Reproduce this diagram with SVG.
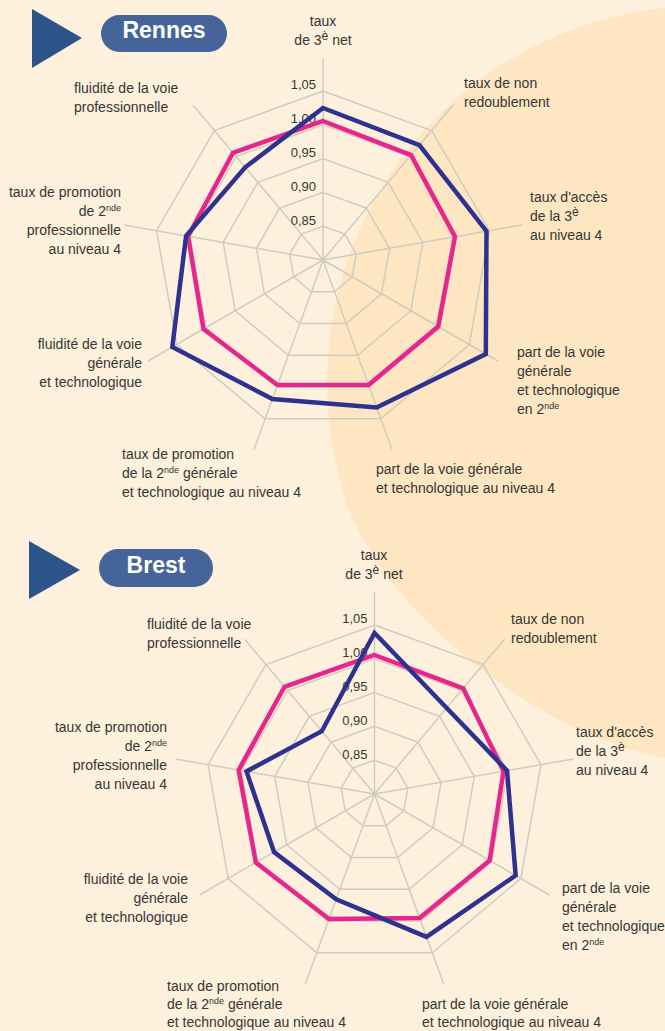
<svg xmlns="http://www.w3.org/2000/svg" width="665" height="1031" viewBox="0 0 665 1031">
<style>
text{font-family:"Liberation Sans",Arial,sans-serif;font-size:14px;fill:#363636}
.num{font-size:13px;text-anchor:end}
.end{text-anchor:end}
.mid{text-anchor:middle}
.sup{font-size:9px}
.title{font-family:"Liberation Sans",Arial,sans-serif;font-weight:bold;font-size:23px;fill:#ffffff;text-anchor:middle}
.grid{fill:none;stroke:#cfcdbf;stroke-width:1.5}
.pink{fill:none;stroke:#e6268c;stroke-width:4.5;stroke-linejoin:miter}
.blue{fill:none;stroke:#2e3190;stroke-width:4.5;stroke-linejoin:miter}
.tri{fill:#2c5488}
.pill{fill:#44649a}
</style>
<defs>
<g id="web">
<polygon class="grid" points="0,-33.8 21.73,-25.89 33.29,-5.87 29.27,16.9 11.56,31.76 -11.56,31.76 -29.27,16.9 -33.29,-5.87 -21.73,-25.89"/>
<polygon class="grid" points="0,-67.6 43.45,-51.78 66.57,-11.74 58.54,33.8 23.12,63.52 -23.12,63.52 -58.54,33.8 -66.57,-11.74 -43.45,-51.78"/>
<polygon class="grid" points="0,-101.4 65.18,-77.67 99.86,-17.61 87.81,50.7 34.68,95.29 -34.68,95.29 -87.81,50.7 -99.86,-17.61 -65.18,-77.67"/>
<polygon class="grid" points="0,-135.2 86.91,-103.56 133.14,-23.47 117.08,67.6 46.24,127.05 -46.24,127.05 -117.08,67.6 -133.14,-23.47 -86.91,-103.56"/>
<polygon class="grid" points="0,-169 108.63,-129.45 166.43,-29.34 146.36,84.5 57.8,158.81 -57.8,158.81 -146.36,84.5 -166.43,-29.34 -108.63,-129.45"/>
<path class="grid" d="M0,0V-202M0,0L129.85,-154.73M0,0L198.93,-35.07M0,0L174.93,101M0,0L69.08,189.82M0,0L-69.08,189.82M0,0L-174.93,101M0,0L-198.93,-35.07M0,0L-129.85,-154.73"/>
<text class="num" x="-7" y="-171">1,05</text>
<text class="num" x="-7" y="-137">1,00</text>
<text class="num" x="-7" y="-103">0,95</text>
<text class="num" x="-7" y="-69">0,90</text>
<text class="num" x="-7" y="-35">0,85</text>
</g>
</defs>
<rect x="0" y="0" width="665" height="1031" fill="#fdf0dc"/>
<path d="M665,8 A377,377 0 0 0 345.6,500 C379.7,604.5 530,732 665,758 Z" fill="#fde6c1"/>

<g id="rennes-title">
<polygon class="tri" points="32,9 82,38 32,68"/>
<rect class="pill" x="101" y="15" width="126" height="37" rx="18.5"/>
<text class="title" x="164" y="38">Rennes</text>
</g>

<g id="rennes-chart" transform="translate(323,260)">
<use href="#web"/>
<g id="rennes-series">
<polygon class="pink" points="0,-139 88.06,-104.94 131.96,-23.26 115.18,66.5 45.49,124.98 -45.49,124.98 -119.51,69 -134.92,-23.78 -89.99,-107.24"/>
<polygon class="blue" points="0,-152 96.42,-114.9 163.48,-28.82 162.81,94 53.69,147.53 -50.62,139.08 -150.68,87 -136.89,-24.13 -77.78,-92.69"/>
</g>
</g>

<g id="rennes-labels">
<text class="mid"><tspan x="323" y="26">taux</tspan><tspan x="323" y="45">de 3<tspan dy="-5" font-size="12">è</tspan><tspan dy="5"> net</tspan></tspan></text>
<text><tspan x="464" y="88">taux de non</tspan><tspan x="464" y="107">redoublement</tspan></text>
<text><tspan x="530" y="202">taux d'accès</tspan><tspan x="530" y="221">de la 3<tspan dy="-5" font-size="12">è</tspan></tspan><tspan x="530" y="240">au niveau 4</tspan></text>
<text><tspan x="517" y="357">part de la voie</tspan><tspan x="517" y="376">générale</tspan><tspan x="517" y="395">et technologique</tspan><tspan x="517" y="414">en 2<tspan class="sup" dy="-5">nde</tspan></tspan></text>
<text><tspan x="376" y="474">part de la voie générale</tspan><tspan x="376" y="493">et technologique au niveau 4</tspan></text>
<text><tspan x="122" y="459">taux de promotion</tspan><tspan x="122" y="478">de la 2<tspan class="sup" dy="-5">nde</tspan><tspan dy="5"> générale</tspan></tspan><tspan x="122" y="497">et technologique au niveau 4</tspan></text>
<text class="end"><tspan x="142" y="349">fluidité de la voie</tspan><tspan x="142" y="368">générale</tspan><tspan x="142" y="387">et technologique</tspan></text>
<text class="end"><tspan x="121" y="197">taux de promotion</tspan><tspan x="121" y="216">de 2<tspan class="sup" dy="-5">nde</tspan></tspan><tspan x="121" y="235">professionnelle</tspan><tspan x="121" y="254">au niveau 4</tspan></text>
<text><tspan x="74" y="93">fluidité de la voie</tspan><tspan x="74" y="112">professionnelle</tspan></text>
</g>

<g id="brest-title">
<polygon class="tri" points="29,541 80,570 29,599"/>
<rect class="pill" x="99" y="549" width="114" height="38" rx="19"/>
<text class="title" x="156" y="573">Brest</text>
</g>

<g id="brest-chart" transform="translate(374.5,794)">
<use href="#web"/>
<g id="brest-series">
<polygon class="pink" points="0,-139 88.71,-105.71 129.01,-22.74 115.18,66.5 45.14,124.04 -45.49,124.98 -118.64,68.5 -135.9,-23.96 -89.99,-107.24"/>
<polygon class="blue" points="0,-161 72.19,-86.02 132.55,-23.37 141.16,81.5 51.98,142.83 -38.3,105.25 -100.46,58 -128.02,-22.57 -52.71,-62.81"/>
</g>
</g>

<g id="brest-labels">
<text class="mid"><tspan x="374" y="560">taux</tspan><tspan x="374" y="579">de 3<tspan dy="-5" font-size="12">è</tspan><tspan dy="5"> net</tspan></tspan></text>
<text><tspan x="511" y="624">taux de non</tspan><tspan x="511" y="643">redoublement</tspan></text>
<text><tspan x="576" y="737">taux d'accès</tspan><tspan x="576" y="756">de la 3<tspan dy="-5" font-size="12">è</tspan></tspan><tspan x="576" y="775">au niveau 4</tspan></text>
<text><tspan x="562" y="893">part de la voie</tspan><tspan x="562" y="912">générale</tspan><tspan x="562" y="931">et technologique</tspan><tspan x="562" y="950">en 2<tspan class="sup" dy="-5">nde</tspan></tspan></text>
<text><tspan x="422" y="1009">part de la voie générale</tspan><tspan x="422" y="1027">et technologique au niveau 4</tspan></text>
<text><tspan x="167" y="991">taux de promotion</tspan><tspan x="167" y="1009">de la 2<tspan class="sup" dy="-5">nde</tspan><tspan dy="5"> générale</tspan></tspan><tspan x="167" y="1027">et technologique au niveau 4</tspan></text>
<text class="end"><tspan x="188" y="884">fluidité de la voie</tspan><tspan x="188" y="903">générale</tspan><tspan x="188" y="922">et technologique</tspan></text>
<text class="end"><tspan x="167" y="732">taux de promotion</tspan><tspan x="167" y="751">de 2<tspan class="sup" dy="-5">nde</tspan></tspan><tspan x="167" y="770">professionnelle</tspan><tspan x="167" y="789">au niveau 4</tspan></text>
<text><tspan x="147" y="629">fluidité de la voie</tspan><tspan x="147" y="648">professionnelle</tspan></text>
</g>
</svg>
